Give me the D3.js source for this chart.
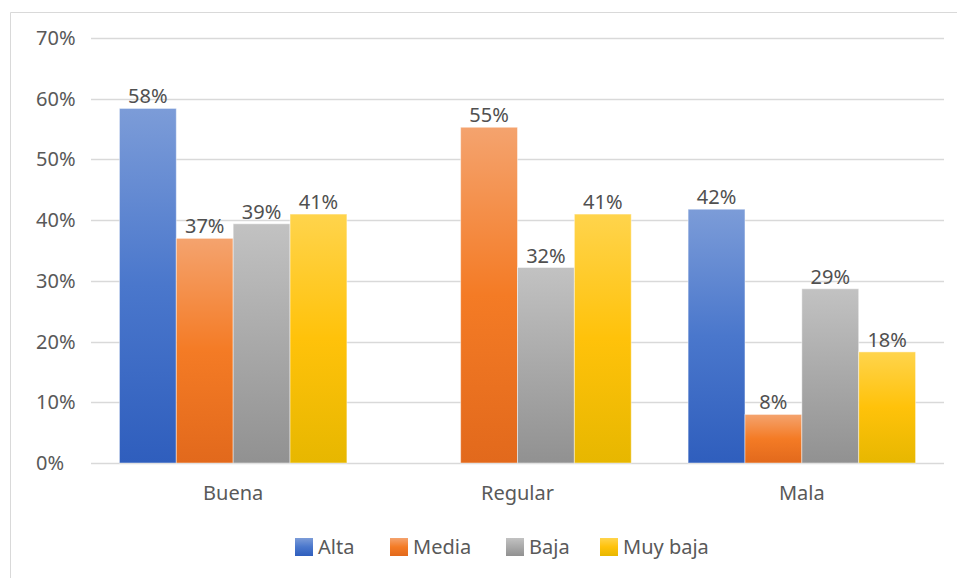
<!DOCTYPE html>
<html>
<head>
<meta charset="utf-8">
<script src="https://cdn.jsdelivr.net/npm/d3@7"></script>
<style>
  body { margin: 0; background: #fff; }
  svg { display: block; font-family: "Noto Sans", "Open Sans", sans-serif; }
</style>
</head>
<body>
<div id="chart"></div>
<script>
(function () {

  // data (bar heights estimated, labels are rounded)
  var categories = ["Buena", "Regular", "Mala"];
  var series = ["Alta", "Media", "Baja", "Muy baja"];
  var alta = [0.584, null, 0.418];
  var media = [0.370, 0.553, 0.080];
  var baja = [0.394, 0.322, 0.287];
  var muyBaja = [0.410, 0.410, 0.183];
  var yTicks = [0, 0.1, 0.2, 0.3, 0.4, 0.5, 0.6, 0.7];

  var values = [alta, media, baja, muyBaja];

  // top / middle / bottom of each bar gradient
  var gradients = [
    ["#7c9cd8", "#4a77cc", "#2f5ebd"],
    ["#f4a36e", "#f47b25", "#e2691c"],
    ["#c2c2c2", "#a9a9a9", "#919191"],
    ["#ffd44c", "#ffc20a", "#e7b700"]
  ];

  var width = 957;
  var height = 578;
  var left = 91, right = 944, top = 38, bottom = 463;

  var svg = d3.select("#chart")
    .append("svg")
    .attr("width", width)
    .attr("height", height);

  var defs = svg.append("defs");
  gradients.forEach(function (g, i) {
    var lg = defs.append("linearGradient")
      .attr("id", "grad" + i)
      .attr("x1", 0).attr("y1", 0)
      .attr("x2", 0).attr("y2", 1);
    lg.append("stop").attr("offset", "0%").attr("stop-color", g[0]);
    lg.append("stop").attr("offset", "50%").attr("stop-color", g[1]);
    lg.append("stop").attr("offset", "100%").attr("stop-color", g[2]);
  });

  // outer frame (top and left edge only are visible)
  svg.append("path")
    .attr("d", "M10.5," + height + "V12.5H" + width)
    .attr("fill", "none")
    .attr("stroke", "#d9d9d9");

  var y = d3.scaleLinear()
    .domain([0, 0.7])
    .range([bottom, top]);

  var x0 = d3.scaleBand()
    .domain(categories)
    .range([left, right])
    .paddingInner(0.2)
    .paddingOuter(0.1);

  var x1 = d3.scaleBand()
    .domain(series)
    .range([0, x0.bandwidth()]);

  var pct = d3.format(".0%");

  // gridlines
  svg.append("g")
    .selectAll("line")
    .data(yTicks)
    .enter()
      .append("line")
      .attr("x1", left)
      .attr("x2", right)
      .attr("y1", function (d) { return Math.round(y(d)) + 0.5; })
      .attr("y2", function (d) { return Math.round(y(d)) + 0.5; })
      .attr("stroke", "#d9d9d9")
      .attr("stroke-width", 1.3);

  // y tick labels
  svg.append("g")
    .selectAll("text")
    .data(yTicks)
    .enter()
      .append("text")
      .attr("x", 36)
      .attr("y", function (d) { return y(d); })
      .attr("dy", "0.35em")
      .attr("font-size", 20)
      .attr("fill", "#595959")
      .text(function (d) { return pct(d); });

  // bars
  var groups = svg.append("g")
    .selectAll("g")
    .data(categories)
    .enter()
      .append("g")
      .attr("transform", function (d) { return "translate(" + x0(d) + ",0)"; });

  var cells = groups.selectAll("g")
    .data(function (c, ci) {
      return series.map(function (s, si) {
        return { series: s, index: si, value: values[si][ci] };
      }).filter(function (d) { return d.value != null; });
    })
    .enter()
      .append("g");

  cells.append("rect")
    .attr("x", function (d) { return x1(d.series); })
    .attr("y", function (d) { return y(d.value); })
    .attr("width", x1.bandwidth())
    .attr("height", function (d) { return y(0) - y(d.value); })
    .attr("fill", function (d) { return "url(#grad" + d.index + ")"; })
    .attr("stroke", "rgba(255,255,255,0.45)")
    .attr("stroke-width", 1);

  cells.append("text")
    .attr("x", function (d) { return x1(d.series) + x1.bandwidth() / 2; })
    .attr("y", function (d) { return y(d.value) - 5; })
    .attr("text-anchor", "middle")
    .attr("font-size", 20)
    .attr("fill", "#505050")
    .text(function (d) { return pct(d.value); });

  // category labels
  svg.append("g")
    .selectAll("text")
    .data(categories)
    .enter()
      .append("text")
      .attr("x", function (d) { return x0(d) + x0.bandwidth() / 2; })
      .attr("y", 500)
      .attr("text-anchor", "middle")
      .attr("font-size", 20)
      .attr("fill", "#595959")
      .text(function (d) { return d; });

  // legend
  var legendX = [295, 390, 506, 600];
  var legend = svg.append("g")
    .selectAll("g")
    .data(series)
    .enter()
      .append("g")
      .attr("transform", function (d, i) { return "translate(" + legendX[i] + ",538)"; });

  legend.append("rect")
    .attr("width", 18)
    .attr("height", 18)
    .attr("fill", function (d, i) { return "url(#grad" + i + ")"; });

  legend.append("text")
    .attr("x", 23)
    .attr("y", 9)
    .attr("dy", "0.35em")
    .attr("font-size", 20)
    .attr("fill", "#595959")
    .text(function (d) { return d; });

})();
</script>
</body>
</html>
